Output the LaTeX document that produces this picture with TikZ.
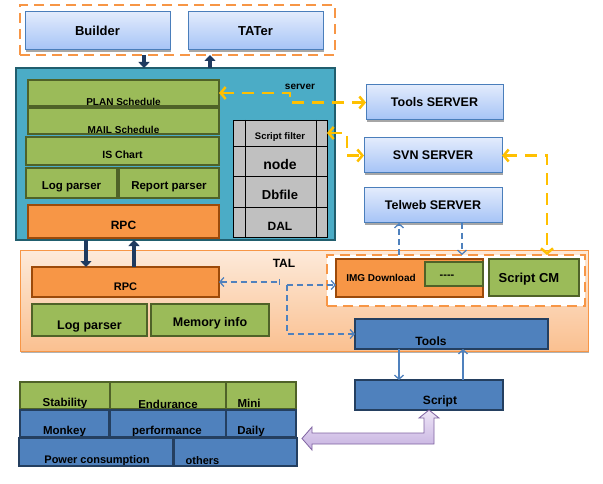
\documentclass[tikz,border=0pt]{standalone}
\usepackage{fontspec}
\setmainfont{Liberation Sans}
\usetikzlibrary{arrows.meta,shadows,calc}
\definecolor{teal1}{HTML}{4BACC6}
\definecolor{teald}{HTML}{215E6E}
\definecolor{grn}{HTML}{9BBB59}
\definecolor{grnd}{HTML}{4F6228}
\definecolor{org}{HTML}{F79646}
\definecolor{orgd}{HTML}{9C4A0A}
\definecolor{blu}{HTML}{4F81BD}
\definecolor{blud}{HTML}{243F60}
\definecolor{srvtop}{HTML}{E2EBFC}
\definecolor{srvbot}{HTML}{A5C3F6}
\definecolor{srvb}{HTML}{4A7EBB}
\definecolor{yel}{HTML}{FFC000}
\definecolor{talt}{HTML}{FDEADA}
\definecolor{talb}{HTML}{FAC090}
\definecolor{navy}{HTML}{1F3A5F}
\definecolor{purp}{HTML}{8064A2}
\definecolor{lavt}{HTML}{EEE6F7}
\definecolor{lavb}{HTML}{C6B1E0}
\definecolor{grayc}{HTML}{C0C0C0}
\newcommand\bx[7]{\node[#1,minimum width={(#5-#3)*1pt},minimum height={(#6-#4)*1pt}] (#2) at ({(#3+#5)/2},{(#4+#6)/2}) {#7};}
\tikzset{
 fs/.style={font=\fontsize{#1}{#1}\selectfont\bfseries},
 base/.style={inner sep=0pt, outer sep=0pt, align=center, text=black},
 srv/.style={base, draw=srvb, line width=1pt, top color=srvtop, bottom color=srvbot, drop shadow={shadow xshift=1pt,shadow yshift=-2pt,fill=black!35,opacity=1}},
 gbox/.style={base, fill=grn, draw=grnd, line width=2pt},
 obox/.style={base, fill=org, draw=orgd, line width=2pt},
 bbox/.style={base, fill=blu, draw=blud, line width=2pt},
 cbox/.style={base, fill=grayc, draw=black, line width=0.8pt},
 odash/.style={base, draw=org, line width=2.5pt, dash pattern=on 10pt off 6pt},
 ctext/.style n args={4}{path picture={\node[inner sep=0pt, fs=#3] at ([xshift={(#1)*1pt},yshift={-(#2)*1pt}]path picture bounding box.center) {#4};}},
 darr/.style={draw=navy, line width=3.5pt, -{Triangle[width=11pt,length=6pt]}},
 yarr/.style={draw=yel, line width=2.5pt, dash pattern=on 12pt off 8pt, {Straight Barb[length=5pt,width=12pt]}-{Straight Barb[length=5pt,width=12pt]}},
 bdash/.style={draw=blu, line width=1.3pt, dash pattern=on 6pt off 4pt},
 bsolid/.style={draw=blu, line width=1.3pt},
}
\begin{document}
\begin{tikzpicture}[x=1pt,y=-1pt,>={Straight Barb[length=4pt,width=9pt]}]
\useasboundingbox (0,0) rectangle (603,484);
\fill[white] (0,0) rectangle (603,484);
% top group
\bx{odash}{topdash}{20}{5}{335}{55}{}
\bx{srv,fs=13}{builder}{25}{12}{170}{50}{Builder}
\bx{srv,fs=13}{tater}{188}{12}{323}{50}{TATer}
% main box
\bx{base,fill=teal1,draw=teald,line width=2.5pt}{mainbox}{16}{68}{335}{240}{}
\bx{gbox,ctext={0}{8.5}{10}{PLAN Schedule}}{plan}{28}{80}{219}{106}{}
\bx{gbox,ctext={0}{9}{10}{MAIL Schedule}}{mail}{28}{108}{219}{134}{}
\bx{gbox,ctext={0}{4}{10.5}{IS Chart}}{ischart}{26}{137}{219}{165}{}
\bx{gbox,ctext={0}{3.5}{11.5}{Log parser}}{logp1}{26}{168}{117}{198}{}
\bx{gbox,ctext={0}{3.5}{11.5}{Report parser}}{report}{119}{168}{219}{198}{}
\bx{obox,ctext={0}{3.5}{12}{RPC}}{rpc1}{28}{205}{219}{238}{}
\bx{cbox,ctext={0}{4}{9.5}{Script filter}}{sf}{233}{120}{327}{146}{}
\bx{cbox,ctext={0}{3}{14}{node}}{nodecell}{233}{146}{327}{176}{}
\bx{cbox,ctext={0}{3}{13}{Dbfile}}{dbfile}{233}{176}{327}{207}{}
\bx{cbox,ctext={0}{4}{12}{DAL}}{dal}{233}{207}{327}{237}{}
\coordinate (vl1) at (245,0);
\coordinate (vl2) at (316,0);
\draw[line width=0.8pt] (vl1 |- sf.north) -- (vl1 |- dal.south);
\draw[line width=0.8pt] (vl2 |- sf.north) -- (vl2 |- dal.south);
\node[base,fs=10] (srvlabel) at (300,86.5) {server};
% servers
\bx{srv,fs=12.5}{toolssrv}{366}{85}{503}{120}{Tools SERVER}
\bx{srv,fs=12.5}{svn}{364}{138}{502}{173}{SVN SERVER}
\bx{srv,fs=12.5}{telweb}{364}{188}{502}{223}{Telweb SERVER}
% TAL
\bx{base,draw=org,line width=1pt,top color=talt,bottom color=talb,drop shadow={shadow xshift=1pt,shadow yshift=-2pt,fill=black!30,opacity=1}}{tal}{20}{250}{588}{351}{}
\node[base,fs=12] (tallabel) at (284,263) {TAL};
\bx{obox,ctext={0}{5}{11}{RPC}}{rpc2}{32}{267}{219}{297}{}
\bx{gbox,ctext={0}{6.5}{12.5}{Log parser}}{logp2}{32}{304}{147}{336}{}
\bx{gbox,ctext={0}{3}{12.5}{Memory info}}{meminfo}{151}{304}{269}{336}{}
\bx{odash,fill=white}{innerdash}{327}{255}{585}{306}{}
\bx{obox,ctext={-28.5}{0}{10}{IMG Download}}{img}{336}{259}{483}{297}{}
\bx{gbox,ctext={-7}{3}{11}{-{}-{}-{}-}}{dashbox}{425}{262}{483}{286}{}
\bx{gbox,ctext={-5}{1.5}{13}{Script CM}}{scriptcm}{489}{259}{579}{296}{}
\bx{bbox,ctext={-20.5}{7}{12}{Tools}}{tools}{355}{319}{548}{349}{}
\bx{bbox,ctext={11}{6.5}{12}{Script}}{script}{355}{380}{503}{410}{}
% bottom table
\bx{gbox,ctext={0}{8.5}{11.5}{Stability}}{stab}{20}{382}{110}{409}{}
\bx{gbox,ctext={0}{8.5}{11.5}{Endurance}}{endu}{110}{382}{226}{409}{}
\bx{gbox,ctext={-12}{8}{11.5}{Mini}}{mini}{226}{382}{296}{409}{}
\bx{bbox,ctext={0}{8.5}{11.5}{Monkey}}{monkey}{20}{410}{109}{437}{}
\bx{bbox,ctext={-1}{8.5}{11.5}{performance}}{perf}{110}{410}{226}{437}{}
\bx{bbox,ctext={-10}{8}{11.5}{Daily}}{daily}{226}{410}{296}{437}{}
\bx{bbox,ctext={1}{9}{11}{Power consumption}}{power}{19}{438}{173}{466}{}
\bx{bbox,ctext={-33}{9}{11}{others}}{others}{174}{438}{297}{466}{}
% dark arrows
\coordinate (ax1) at (144,0);
\coordinate (ax2) at (210,0);
\coordinate (ax3) at (86,0);
\coordinate (ax4) at (134,0);
\draw[darr] (ax1 |- topdash.south) -- (ax1 |- mainbox.north);
\draw[darr] (ax2 |- mainbox.north) -- (ax2 |- topdash.south);
\draw[darr] (ax3 |- mainbox.south) -- (ax3 |- rpc2.north);
\draw[darr] (ax4 |- rpc2.north) -- (ax4 |- mainbox.south);
% yellow connectors
\coordinate (yj1) at (290,0);
\coordinate (yj2) at (347,0);
\coordinate (yj3) at (547,0);
\draw[yarr] (plan.east) -- (plan.east -| yj1) |- (toolssrv.west);
\draw[yarr] (sf.east) -- (sf.east -| yj2) |- (svn.west);
\draw[yarr] (svn.east) -| (yj3 |- innerdash.north);
% blue connectors
\coordinate (bj1) at (280,282);
\coordinate (bj2) at (287,285);
\coordinate (bx4) at (399,0);
\coordinate (bx5) at (462,0);
\coordinate (bx6) at (463,0);
\draw[bdash,{Straight Barb[length=4pt,width=9pt]}-{Bar[width=6pt]}] (rpc2.east) -- (bj1);
\draw[bdash,->] (bj2) -- (bj2 -| img.west);
\draw[bdash,->] (bj2) |- (tools.west);
\draw[bdash,->] (bx4 |- innerdash.north) -- (bx4 |- telweb.south);
\draw[bdash,->] (bx5 |- telweb.south) -- (bx5 |- innerdash.north);
\draw[bsolid,->] (bx4 |- tools.south) -- (bx4 |- script.north);
\draw[bsolid,->] (bx6 |- script.north) -- (bx6 |- tools.south);
% purple block arrow
\begin{scope}[shift={(script.south)}]
\shadedraw[draw=purp, line width=0.8pt, top color=lavt, bottom color=lavb]
 (0,0) -- (10,8) -- (5,8) -- (5,34) -- (-117,34) -- (-117,40) -- (-127,28.5) -- (-117,17) -- (-117,23) -- (-5,23) -- (-5,8) -- (-10,8) -- cycle;
\end{scope}
\end{tikzpicture}
\end{document}
